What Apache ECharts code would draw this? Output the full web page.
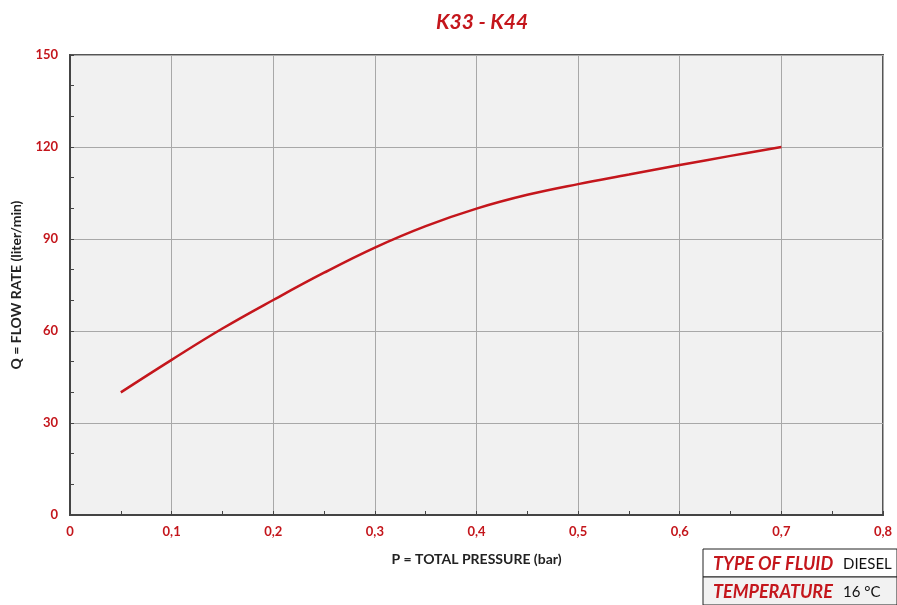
<!DOCTYPE html>
<html>
<head>
<meta charset="utf-8">
<script src="https://cdn.jsdelivr.net/npm/echarts@6/dist/echarts.min.js"></script>
<style>html,body{margin:0;padding:0;background:#fff;}#c{width:897px;height:605px;}</style>
</head>
<body>
<div id="c"></div>
<script>
const pressure = [0.05, 0.10, 0.15, 0.20, 0.25, 0.30, 0.35, 0.40, 0.45, 0.50, 0.55, 0.60, 0.65, 0.70];
const flowRate = [40.0, 50.6, 60.8, 70.1, 79.0, 87.2, 94.2, 99.9, 104.4, 107.9, 111.0, 114.1, 117.1, 120.0];
const yTicks = [0, 30, 60, 90, 120, 150];
const xTicks = [0, 0.1, 0.2, 0.3, 0.4, 0.5, 0.6, 0.7, 0.8];
const titleText = 'K33 - K44';
const xName = 'P = TOTAL PRESSURE (bar)';
const yName = 'Q = FLOW RATE (liter/min)';
const infoRows = [['TYPE OF FLUID', 'DIESEL'], ['TEMPERATURE', '16 °C']];

const RED = '#c4161c';
const chart = echarts.init(document.getElementById('c'));
const font = 'Lato, "Open Sans", sans-serif';

const graphics = [];
const tx = 703, ty = 549, rowH = 28, tw = 194;
infoRows.forEach((r, i) => {
  graphics.push({type:'rect', shape:{x:tx, y:ty+i*rowH, width:tw, height:rowH},
    style:{fill: i===1 ? '#f2f2f2' : '#fff', stroke:'#222', lineWidth:1}});
  graphics.push({type:'text', x:tx+10, y:ty+i*rowH+rowH/2+1,
    style:{text:r[0], fill:RED, font:'italic bold 18px ' + font, verticalAlign:'middle'}});
  graphics.push({type:'text', x:843, y:ty+i*rowH+rowH/2+1,
    style:{text:r[1], fill:'#111', font:'15px ' + font, verticalAlign:'middle'}});
});

chart.setOption({
  animation:false,
  backgroundColor:'#fff',
  title:{text:titleText, top:7, left:431,
    textStyle:{color:RED, fontStyle:'italic', fontWeight:'bold', fontSize:21, fontFamily:font}},
  grid:{left:70, right:14, top:55, bottom:90, containLabel:false, outerBoundsMode:'none',
    show:true, backgroundColor:'#f1f1f1', borderColor:'#555', borderWidth:2},
  xAxis:{type:'value', min:0, max:0.8, interval:0.1,
    name:xName, nameLocation:'middle', nameGap:37,
    nameTextStyle:{color:'#222', fontWeight:'bold', fontSize:14, fontFamily:font},
    axisLine:{show:true, onZero:false, lineStyle:{color:'#444', width:2}},
    axisTick:{show:true, inside:true, length:4, lineStyle:{color:'#444'}},
    minorTick:{show:true, splitNumber:2, length:4, lineStyle:{color:'#444'}},
    splitLine:{show:true, lineStyle:{color:'#a8a8a8', width:1}},
    axisLabel:{color:RED, fontWeight:'bold', fontSize:13, fontFamily:font, margin:10,
      formatter: v => String(Math.round(v*10)/10).replace('.', ',')}
  },
  yAxis:{type:'value', min:0, max:150, interval:30,
    name:yName, nameLocation:'middle', nameGap:47, nameRotate:90,
    nameTextStyle:{color:'#222', fontWeight:'bold', fontSize:14, fontFamily:font},
    axisLine:{show:true, onZero:false, lineStyle:{color:'#444', width:2}},
    axisTick:{show:true, inside:true, length:4, lineStyle:{color:'#444'}},
    minorTick:{show:true, splitNumber:3, length:4, lineStyle:{color:'#444'}},
    splitLine:{show:true, lineStyle:{color:'#a8a8a8', width:1}},
    axisLabel:{color:RED, fontWeight:'bold', fontSize:13, fontFamily:font, margin:12}
  },
  series:[{type:'line', smooth:0.4, showSymbol:false,
    data: pressure.map((p,i)=>[p, flowRate[i]]),
    lineStyle:{color:RED, width:2.5}}],
  graphic: graphics
});
</script>
</body>
</html>
